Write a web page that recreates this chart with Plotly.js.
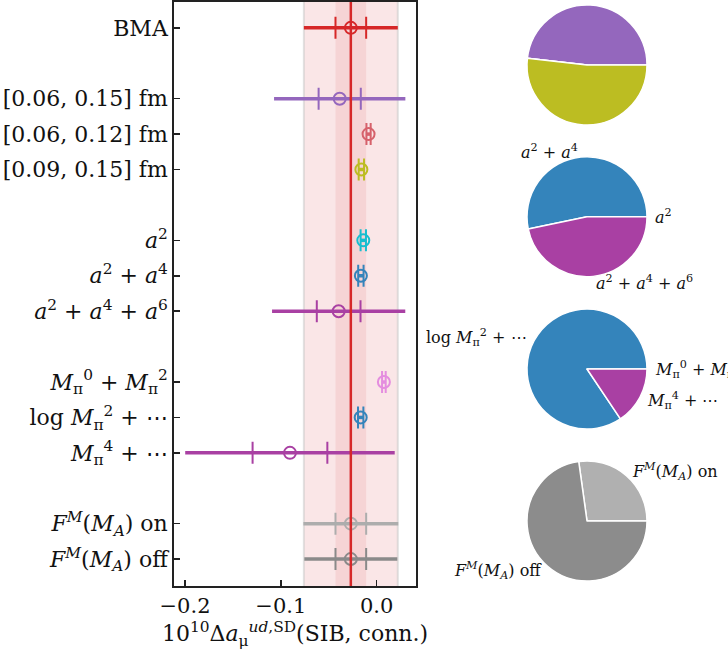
<!DOCTYPE html>
<html><head><meta charset="utf-8">
<script src="https://cdn.plot.ly/plotly-3.0.1.min.js"></script>
<style>html,body{margin:0;padding:0;background:#fff}</style>
</head><body><div id="chart" style="width:728px;height:655px"></div>
<script>
// ---------- data ----------
const rowLabels = [
  "BMA",
  "[0.06, 0.15] fm",
  "[0.06, 0.12] fm",
  "[0.09, 0.15] fm",
  "<i>a</i><sup>2</sup>",
  "<i>a</i><sup>2</sup> + <i>a</i><sup>4</sup>",
  "<i>a</i><sup>2</sup> + <i>a</i><sup>4</sup> + <i>a</i><sup>6</sup>",
  "<i>M</i><sub>π</sub><sup>0</sup> + <i>M</i><sub>π</sub><sup>2</sup>",
  "log <i>M</i><sub>π</sub><sup>2</sup> + ⋯",
  "<i>M</i><sub>π</sub><sup>4</sup> + ⋯",
  "<i>F</i><sup><i>M</i></sup>(<i>M</i><sub><i>A</i></sub>) on",
  "<i>F</i><sup><i>M</i></sup>(<i>M</i><sub><i>A</i></sub>) off"
];
const rowGroup  = [0, 1, 1, 1, 2, 2, 2, 3, 3, 3, 4, 4];
const central   = [-0.027, -0.0386, -0.0085, -0.0160, -0.0140, -0.0165, -0.0397, 0.0075, -0.0167, -0.0905, -0.027, -0.027];
const errTotal  = [0.049, 0.0685, 0.0024, 0.0030, 0.0030, 0.0030, 0.0695, 0.0021, 0.0030, 0.1093, 0.0495, 0.0485];
const errStat   = [0.016, 0.0220, 0.0022, 0.0028, 0.0028, 0.0028, 0.0228, 0.0019, 0.0028, 0.0390, 0.0160, 0.0160];
const rowColors = ["#d62728", "#9467bd", "#d6616b", "#bcbd22", "#17becf", "#3484bb", "#a940a3",
                   "#e48ddf", "#3484bb", "#a940a3", "#adadad", "#8a8a8a"];

const pie1Labels = ["[0.06, 0.15] fm", "[0.06, 0.12] fm", "[0.09, 0.15] fm"];
const pie1Values = [0.482, 0.0, 0.518];
const pie1Colors = ["#9467bd", "#d6616b", "#bcbd22"];

const pie2Labels = ["<i>a</i><sup>2</sup>", "<i>a</i><sup>2</sup> + <i>a</i><sup>4</sup>", "<i>a</i><sup>2</sup> + <i>a</i><sup>4</sup> + <i>a</i><sup>6</sup>"];
const pie2Values = [0.0, 0.533, 0.467];
const pie2Colors = ["#17becf", "#3484bb", "#a940a3"];

const pie3Labels = ["<i>M</i><sub>π</sub><sup>0</sup> + <i>M</i><sub>π</sub><sup>2</sup>", "log <i>M</i><sub>π</sub><sup>2</sup> + ⋯", "<i>M</i><sub>π</sub><sup>4</sup> + ⋯"];
const pie3Values = [0.0, 0.844, 0.156];
const pie3Colors = ["#e48ddf", "#3484bb", "#a940a3"];

const pie4Labels = ["<i>F</i><sup><i>M</i></sup>(<i>M</i><sub><i>A</i></sub>) on", "<i>F</i><sup><i>M</i></sup>(<i>M</i><sub><i>A</i></sub>) off"];
const pie4Values = [0.272, 0.728];
const pie4Colors = ["#b0b0b0", "#8c8c8c"];

// ---------- layout geometry ----------
const W = 728, H = 655;
const FONT = "DejaVu Serif";
const yPos = rowGroup.map((g, i) => i + g);

const traces = [];
for (let i = 0; i < central.length; i++) {
  traces.push({
    type: "scatter", mode: "markers", x: [central[i]], y: [yPos[i]],
    marker: {size: 1, opacity: 0, color: rowColors[i]},
    error_x: {type: "data", array: [errTotal[i]], symmetric: true, width: 0, thickness: 3.5, color: rowColors[i]},
    hoverinfo: "skip", showlegend: false
  });
  traces.push({
    type: "scatter", mode: "markers", x: [central[i]], y: [yPos[i]],
    marker: {size: 1, opacity: 0, color: rowColors[i]},
    error_x: {type: "data", array: [errStat[i]], symmetric: true, width: 11, thickness: 2, color: rowColors[i]},
    hoverinfo: "skip", showlegend: false
  });
  traces.push({
    type: "scatter", mode: "markers", x: [central[i]], y: [yPos[i]],
    marker: {symbol: "circle-open", size: 12, color: rowColors[i], line: {width: 2, color: rowColors[i]}},
    hoverinfo: "skip", showlegend: false
  });
}

const pieGeom = [
  {cx: 587, cy: 65,    r: 60, labels: pie1Labels, values: pie1Values, colors: pie1Colors, showText: false},
  {cx: 587, cy: 216.7, r: 60, labels: pie2Labels, values: pie2Values, colors: pie2Colors, showText: true},
  {cx: 587, cy: 369,   r: 60, labels: pie3Labels, values: pie3Values, colors: pie3Colors, showText: true},
  {cx: 587, cy: 521,   r: 60, labels: pie4Labels, values: pie4Values, colors: pie4Colors, showText: true}
];
const annotations = [];
pieGeom.forEach(p => {
  const tot = p.values.reduce((a, b) => a + b, 0);
  // Plotly places the first slice clockwise of 'rotation' when counterclockwise;
  // shift so slices start at 3 o'clock and run counterclockwise (matplotlib startangle=0)
  const rot = 90 - 360 * p.values[0] / tot;
  traces.push({
    type: "pie", values: p.values, labels: p.labels, sort: false,
    direction: "counterclockwise", rotation: rot,
    marker: {colors: p.colors, line: {color: "white", width: 1.5}},
    textinfo: "none", hoverinfo: "none", showlegend: false,
    domain: {x: [(p.cx - p.r) / W, (p.cx + p.r) / W], y: [1 - (p.cy + p.r) / H, 1 - (p.cy - p.r) / H]}
  });
  if (p.showText) {
    let cum = 0;
    p.values.forEach((v, k) => {
      const th = 2 * Math.PI * (cum + v / 2) / tot;
      cum += v;
      const px = p.cx + 1.1 * p.r * Math.cos(th);
      const py = p.cy - 1.1 * p.r * Math.sin(th);
      annotations.push({
        xref: "paper", yref: "paper", x: px / W, y: 1 - py / H,
        text: p.labels[k], showarrow: false,
        xanchor: Math.cos(th) > 0 ? "left" : "right", yanchor: "middle",
        font: {family: FONT, size: 16, color: "#111"}
      });
    });
  }
});

const bma = central[0], bTot = errTotal[0], bStat = errStat[0];
const shapes = [
  {type: "rect", xref: "x", yref: "y domain", x0: bma - bTot, x1: bma + bTot, y0: 0, y1: 1,
   fillcolor: "rgba(214,39,40,0.115)", line: {width: 0}, layer: "below"},
  {type: "line", xref: "x", yref: "y domain", x0: bma - bTot, x1: bma - bTot, y0: 0, y1: 1,
   line: {color: "rgba(200,200,200,0.55)", width: 2}, layer: "below"},
  {type: "line", xref: "x", yref: "y domain", x0: bma + bTot, x1: bma + bTot, y0: 0, y1: 1,
   line: {color: "rgba(200,200,200,0.55)", width: 2}, layer: "below"},
  {type: "rect", xref: "x", yref: "y domain", x0: bma - bStat, x1: bma + bStat, y0: 0, y1: 1,
   fillcolor: "rgba(214,39,40,0.095)", line: {width: 0}, layer: "below"},
  {type: "line", xref: "x", yref: "y domain", x0: bma, x1: bma, y0: 0, y1: 1,
   line: {color: "#d62728", width: 2.5}, layer: "above"}
];

const layout = {
  width: W, height: H, margin: {l: 0, r: 0, t: 0, b: 0},
  paper_bgcolor: "#fff", plot_bgcolor: "#fff",
  font: {family: FONT, color: "#111"},
  showlegend: false,
  xaxis: {
    domain: [174 / W, 416 / W], range: [-0.2115, 0.041],
    tickvals: [-0.2, -0.1, 0.0], tickformat: ".1f",
    ticks: "inside", ticklen: 6, tickwidth: 1.5, tickcolor: "#222",
    showline: true, mirror: true, linecolor: "#222", linewidth: 1.8,
    showgrid: false, zeroline: false, automargin: false,
    tickfont: {family: FONT, size: 21, color: "#111"},
    title: {text: "10<sup>10</sup>Δ<i>a</i><sub>μ</sub><sup><i>ud</i>,SD</sup>(SIB, conn.)",
            font: {family: FONT, size: 22, color: "#111"}, standoff: 6}
  },
  yaxis: {
    domain: [1 - 586 / H, 1 - 2 / H], range: [15.76, -0.73],
    tickvals: yPos, ticktext: rowLabels,
    ticks: "inside", ticklen: 6, tickwidth: 1.5, tickcolor: "#222",
    showline: true, mirror: true, linecolor: "#222", linewidth: 1.8,
    showgrid: false, zeroline: false, automargin: false,
    tickfont: {family: FONT, size: 22, color: "#111"}
  },
  shapes: shapes,
  annotations: annotations
};

Plotly.newPlot("chart", traces, layout, {displayModeBar: false, staticPlot: true});
</script>
</body></html>
